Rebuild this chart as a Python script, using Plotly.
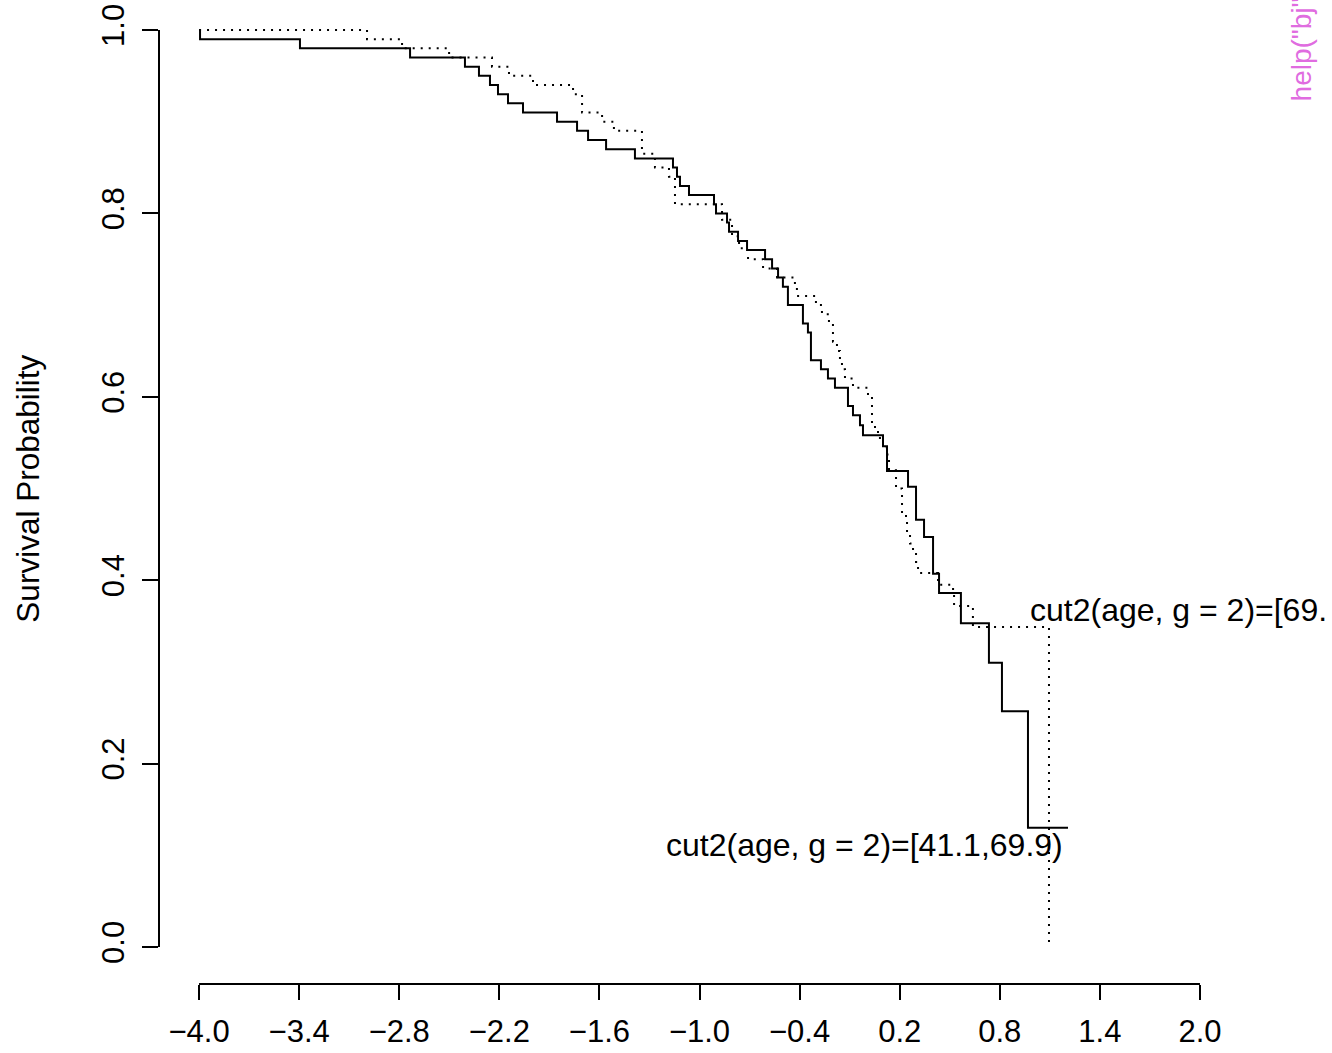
import plotly.graph_objects as go

# ---- data ----
# group 1: cut2(age, g = 2)=[41.1,69.9)  (solid)
t_young = [-4.000, -3.994, -3.395, -2.735, -2.406, -2.322, -2.256, -2.208, -2.148,
           -2.058, -1.854, -1.734, -1.668, -1.560, -1.387, -1.159, -1.135, -1.117,
           -1.063, -0.913, -0.901, -0.835, -0.823, -0.769, -0.715, -0.607, -0.565,
           -0.529, -0.500, -0.470, -0.380, -0.350, -0.332, -0.272, -0.230, -0.188,
           -0.110, -0.080, -0.038, -0.020, 0.100, 0.124, 0.250, 0.298, 0.346,
           0.400, 0.436, 0.567, 0.735, 0.813, 0.969, 1.209]
s_young = [1.00, 0.99, 0.98, 0.97, 0.96, 0.95, 0.94, 0.93, 0.92,
           0.91, 0.90, 0.89, 0.88, 0.87, 0.86, 0.85, 0.84, 0.83,
           0.82, 0.81, 0.80, 0.79, 0.78, 0.77, 0.76, 0.75, 0.74,
           0.73, 0.72, 0.70, 0.68, 0.67, 0.64, 0.63, 0.62, 0.61,
           0.59, 0.58, 0.569, 0.558, 0.546, 0.519, 0.502, 0.466, 0.447,
           0.407, 0.386, 0.353, 0.310, 0.257, 0.130, 0.130]

# group 2: cut2(age, g = 2)=[69.9,...]  (dotted)
t_old = [-4.000, -2.993, -2.783, -2.501, -2.244, -2.142, -1.998, -1.758, -1.704,
         -1.584, -1.513, -1.345, -1.267, -1.183, -1.147, -0.865, -0.805, -0.763,
         -0.709, -0.619, -0.535, -0.428, -0.416, -0.302, -0.266, -0.224, -0.200,
         -0.176, -0.158, -0.146, -0.128, -0.080, 0.010, 0.034, 0.052, 0.070,
         0.100, 0.124, 0.136, 0.178, 0.214, 0.244, 0.262, 0.280, 0.298,
         0.310, 0.430, 0.520, 0.526, 0.639, 1.095]
s_old = [1.00, 0.99, 0.98, 0.97, 0.96, 0.95, 0.94, 0.93, 0.91,
         0.90, 0.89, 0.865, 0.85, 0.84, 0.81, 0.793, 0.775, 0.762,
         0.75, 0.74, 0.73, 0.72, 0.71, 0.70, 0.69, 0.68, 0.66,
         0.65, 0.64, 0.63, 0.62, 0.61, 0.60, 0.57, 0.565, 0.555,
         0.545, 0.537, 0.52, 0.50, 0.47, 0.45, 0.44, 0.43, 0.42,
         0.408, 0.395, 0.387, 0.372, 0.349, 0.0]

x_tickvals = [-4.0, -3.4, -2.8, -2.2, -1.6, -1.0, -0.4, 0.2, 0.8, 1.4, 2.0]
x_ticktext = ["\u22124.0", "\u22123.4", "\u22122.8", "\u22122.2", "\u22121.6", "\u22121.0",
              "\u22120.4", "0.2", "0.8", "1.4", "2.0"]
y_tickvals = [0.0, 0.2, 0.4, 0.6, 0.8, 1.0]
y_ticktext = ["0.0", "0.2", "0.4", "0.6", "0.8", "1.0"]

label_young = "cut2(age, g = 2)=[41.1,69.9)"
label_old = "cut2(age, g = 2)=[69."
y_title = "Survival Probability"
corner_note = 'help("bj")'

FONT = "Liberation Sans, Arial, Helvetica, sans-serif"
FS = 31

fig = go.Figure()
fig.add_trace(go.Scatter(x=t_young, y=s_young, mode="lines", line_shape="hv",
                         line=dict(color="black", width=2), showlegend=False,
                         name=label_young))
fig.add_trace(go.Scatter(x=t_old, y=s_old, mode="lines", line_shape="hv",
                         line=dict(color="black", width=2, dash="2px,6px"),
                         showlegend=False, name=label_old))

# R-style axis lines spanning only the tick range
fig.add_shape(type="line", xref="x", yref="paper", x0=x_tickvals[0], x1=x_tickvals[-1],
              y0=0, y1=0, line=dict(color="black", width=2))
fig.add_shape(type="line", xref="paper", yref="y", x0=0, x1=0,
              y0=y_tickvals[0], y1=y_tickvals[-1], line=dict(color="black", width=2))

fig.add_annotation(x=1.193, y=0.111, xref="x", yref="y", text=label_young,
                   showarrow=False, xanchor="right", yanchor="middle",
                   font=dict(family=FONT, size=32, color="black"))
fig.add_annotation(x=0.972, y=0.368, xref="x", yref="y", text=label_old,
                   showarrow=False, xanchor="left", yanchor="middle",
                   font=dict(family=FONT, size=32, color="black"))
fig.add_annotation(x=-0.122, y=0.5, xref="paper", yref="y", text=y_title,
                   showarrow=False, xanchor="center", yanchor="middle", textangle=-90,
                   font=dict(family=FONT, size=31.5, color="black"))
fig.add_annotation(x=1.0564, y=0.8954, xref="paper", yref="paper", text=corner_note,
                   showarrow=False, xanchor="center", yanchor="bottom", textangle=-90,
                   font=dict(family=FONT, size=28, color="#E06CE0"))

fig.update_layout(
    width=1332, height=1053,
    margin=dict(l=159, r=92, t=0, b=69),
    paper_bgcolor="white", plot_bgcolor="white",
    font=dict(family=FONT, size=FS, color="black"),
    xaxis=dict(range=[-4.24, 2.24], showgrid=False, zeroline=False, showline=False,
               tickmode="array", tickvals=x_tickvals, ticktext=x_ticktext,
               ticks="outside", ticklen=15, tickwidth=2, tickcolor="black",
               ticklabelstandoff=5,
               tickfont=dict(family=FONT, size=FS, color="black")),
    yaxis=dict(range=[-0.0403, 1.0327], showgrid=False, zeroline=False, showline=False,
               tickmode="array", tickvals=y_tickvals, ticktext=y_ticktext,
               ticks="outside", ticklen=16, tickwidth=2, tickcolor="black",
               tickangle=-90, ticklabelstandoff=6,
               tickfont=dict(family=FONT, size=FS, color="black")),
)

fig.write_html("out.html")
